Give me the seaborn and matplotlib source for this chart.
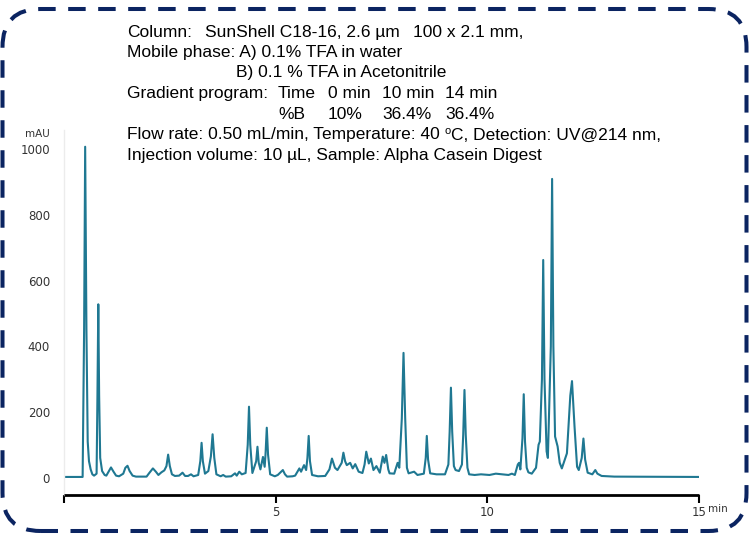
import matplotlib
matplotlib.use("Agg")
import matplotlib.pyplot as plt
from matplotlib.patches import FancyBboxPatch
import seaborn as sns
import pandas as pd

# ---- data (retention time in min, signal in mAU) ----
time_min = [0.00, 0.44, 0.475, 0.50, 0.53, 0.56, 0.59, 0.63, 0.67, 0.71,
            0.77, 0.79, 0.81, 0.83, 0.855, 0.90, 0.96,
            1.00, 1.06, 1.11, 1.17, 1.23, 1.30, 1.40, 1.45, 1.50, 1.55, 1.62, 1.70,
            1.95, 2.02, 2.10, 2.17, 2.23, 2.30, 2.37, 2.42, 2.46, 2.50, 2.55, 2.62,
            2.72, 2.80, 2.86, 2.93, 3.00, 3.06, 3.17, 3.22, 3.25, 3.28, 3.33,
            3.41, 3.47, 3.51, 3.55, 3.60, 3.70, 3.76, 3.82, 3.95, 4.04, 4.08, 4.14, 4.20,
            4.29, 4.34, 4.37, 4.40, 4.45, 4.54, 4.57, 4.60, 4.64, 4.70, 4.74, 4.76, 4.79, 4.82, 4.87,
            4.98, 5.05, 5.17, 5.22, 5.27, 5.40, 5.46, 5.56, 5.60, 5.67, 5.72, 5.75, 5.78, 5.81, 5.86,
            6.00, 6.17, 6.27, 6.33, 6.40, 6.46, 6.56, 6.60, 6.64, 6.68, 6.76, 6.82, 6.88, 6.96,
            7.05, 7.10, 7.14, 7.20, 7.25, 7.31, 7.38, 7.46, 7.53, 7.57, 7.61, 7.66, 7.69,
            7.80, 7.88, 7.92, 7.98, 8.02, 8.06, 8.10, 8.14, 8.27, 8.35, 8.50, 8.545, 8.57,
            8.60, 8.65, 8.80, 9.00, 9.08, 9.11, 9.14, 9.17, 9.21, 9.25, 9.33, 9.40, 9.43,
            9.46, 9.49, 9.53, 9.57, 9.70, 9.85, 10.05, 10.20, 10.35, 10.50, 10.58, 10.65,
            10.72, 10.75, 10.78, 10.83, 10.86, 10.89, 10.93, 10.97, 11.05, 11.15, 11.21,
            11.24, 11.29, 11.32, 11.35, 11.40, 11.43, 11.50, 11.53, 11.56, 11.60, 11.63,
            11.66, 11.71, 11.76, 11.88, 11.96, 12.00, 12.06, 12.12, 12.16, 12.23, 12.27,
            12.31, 12.37, 12.48, 12.55, 12.60, 12.70, 13.00, 15.00]
absorbance_mau = [2, 2, 450, 1008, 450, 110, 50, 25, 10, 6,
                  12, 250, 528, 250, 60, 20, 8,
                  6, 20, 31, 18, 6, 4, 12, 30, 36, 20, 6, 3,
                  3, 15, 28, 18, 8, 16, 22, 35, 70, 35, 10, 5,
                  6, 15, 5, 5, 10, 4, 8, 50, 106, 50, 12,
                  20, 65, 132, 60, 10, 4, 8, 3, 4, 13, 6, 18, 10,
                  14, 100, 216, 100, 14, 50, 94, 45, 25, 63, 33, 70, 152, 70, 10,
                  4, 8, 23, 10, 3, 4, 6, 28, 18, 38, 23, 60, 127, 50, 8,
                  4, 5, 25, 58, 30, 23, 45, 76, 50, 38, 45, 28, 41, 18,
                  14, 40, 79, 43, 58, 23, 35, 15, 64, 45, 69, 25, 13,
                  12, 45, 30, 180, 380, 180, 30, 13, 18, 8, 12, 60, 127,
                  55, 13, 10, 10, 40, 140, 274, 140, 35, 23, 20, 40, 130,
                  267, 130, 30, 10, 8, 10, 8, 12, 10, 8, 12, 8,
                  40, 45, 25, 120, 254, 110, 30, 16, 12, 30, 100,
                  110, 300, 663, 300, 80, 60, 400, 910, 400, 125, 110,
                  95, 45, 28, 74, 250, 294, 155, 33, 23, 60, 119,
                  55, 15, 10, 23, 12, 5, 3, 2]

x_ticks = [0, 5, 10, 15]
x_tick_labels = ["", "5", "10", "15"]
y_ticks = [0, 200, 400, 600, 800, 1000]
y_tick_labels = ["0", "200", "400", "600", "800", "1000"]

gradient_time = ["Time", "0 min", "10 min", "14 min"]
gradient_b = ["%B", "10%", "36.4%", "36.4%"]

# ---- figure ----
sns.set_style("white")
plt.rcParams["font.family"] = ["Liberation Sans", "DejaVu Sans"]

W, H = 749, 540
fig = plt.figure(figsize=(W / 100, H / 100), dpi=100)
fig.patch.set_facecolor("white")

ax_left, ax_right = 64, 699
ax_top, ax_bot = 130, 495
ax = fig.add_axes([ax_left / W, 1 - ax_bot / H, (ax_right - ax_left) / W, (ax_bot - ax_top) / H])

df = pd.DataFrame({"time": time_min, "mAU": absorbance_mau})
sns.lineplot(data=df, x="time", y="mAU", ax=ax, color="#1f7892", linewidth=1.5,
             estimator=None, sort=False)

ax.set_xlim(0, 15)
ax.set_ylim(-53, 1059)
ax.set_xlabel("")
ax.set_ylabel("")

for s in ["top", "right"]:
    ax.spines[s].set_visible(False)
ax.spines["left"].set_color("#ececec")
ax.spines["left"].set_linewidth(1.0)
ax.spines["bottom"].set_color("black")
ax.spines["bottom"].set_linewidth(2.0)
ax.spines["bottom"].set_capstyle("butt")

ax.set_xticks(x_ticks)
ax.set_xticklabels(x_tick_labels)
ax.set_yticks(y_ticks)
ax.set_yticklabels(y_tick_labels)
ax.tick_params(axis="x", direction="out", length=6, width=1.5, color="black",
               labelsize=8.5, labelcolor="#333333", pad=2, bottom=True)
ax.tick_params(axis="y", length=0, labelsize=8.5, labelcolor="#333333", pad=10, left=True)
for lab in ax.get_xticklabels() + ax.get_yticklabels():
    lab.set_fontfamily("DejaVu Sans")

ax.set_xticks(range(0, 16), minor=True)
ax.tick_params(axis="x", which="minor", direction="in", length=30, width=0.8, color="#f0f0f0")
ax.set_yticks(range(0, 1001, 100), minor=True)
ax.tick_params(axis="y", which="minor", direction="inout", length=5, width=0.8, color="#e6e6e6")
ax.grid(False)

# axis unit labels
fig.text(50 / W, 1 - 134 / H, "mAU", ha="right", va="center", fontsize=7.5,
         color="#333333", family="DejaVu Sans")
fig.text(718 / W, 1 - 509 / H, "min", ha="center", va="center", fontsize=7.5,
         color="#333333", family="DejaVu Sans")

# info text block (baseline-aligned)
fs = 12.5
def ty(y):
    return 1 - y / H
def put(x, y, s, size=fs):
    return fig.text(x / W, ty(y), s, fontsize=size, va="baseline", color="black")

put(127, 37, "Column:")
put(205, 37, "SunShell C18-16, 2.6 \u00b5m")
put(413, 37, "100 x 2.1 mm,")
put(127, 57, "Mobile phase: A) 0.1% TFA in water")
put(236, 77.5, "B) 0.1 % TFA in Acetonitrile")
put(127, 98, "Gradient program:")
for xp, t1, t2 in zip([278, 328, 382, 445], gradient_time, gradient_b):
    put(xp, 98, t1)
    put(xp, 119, t2)

renderer = fig.canvas.get_renderer()
t1 = put(127, 139.5, "Flow rate: 0.50 mL/min, Temperature: 40 ")
x_end = t1.get_window_extent(renderer).x1
sup = fig.text(x_end / W, ty(134), "o", fontsize=8, va="baseline", color="black")
x_end2 = sup.get_window_extent(renderer).x1
fig.text(x_end2 / W, ty(139.5), "C, Detection: UV@214 nm,", fontsize=fs, va="baseline", color="black")
put(127, 160, "Injection volume: 10 \u00b5L, Sample: Alpha Casein Digest")

# dashed rounded border
lw = 2.9
border = FancyBboxPatch((2.5 / 100, 9 / 100), (746.5 - 2.5) / 100, (531 - 9) / 100,
                        boxstyle="round,pad=0,rounding_size=0.38",
                        transform=fig.dpi_scale_trans, fill=False,
                        edgecolor="#0b2461", linewidth=lw,
                        linestyle=(0, (12.6 / lw, 9.0 / lw)), zorder=10)
fig.patches.append(border)

fig.savefig("out.png", dpi=100)
